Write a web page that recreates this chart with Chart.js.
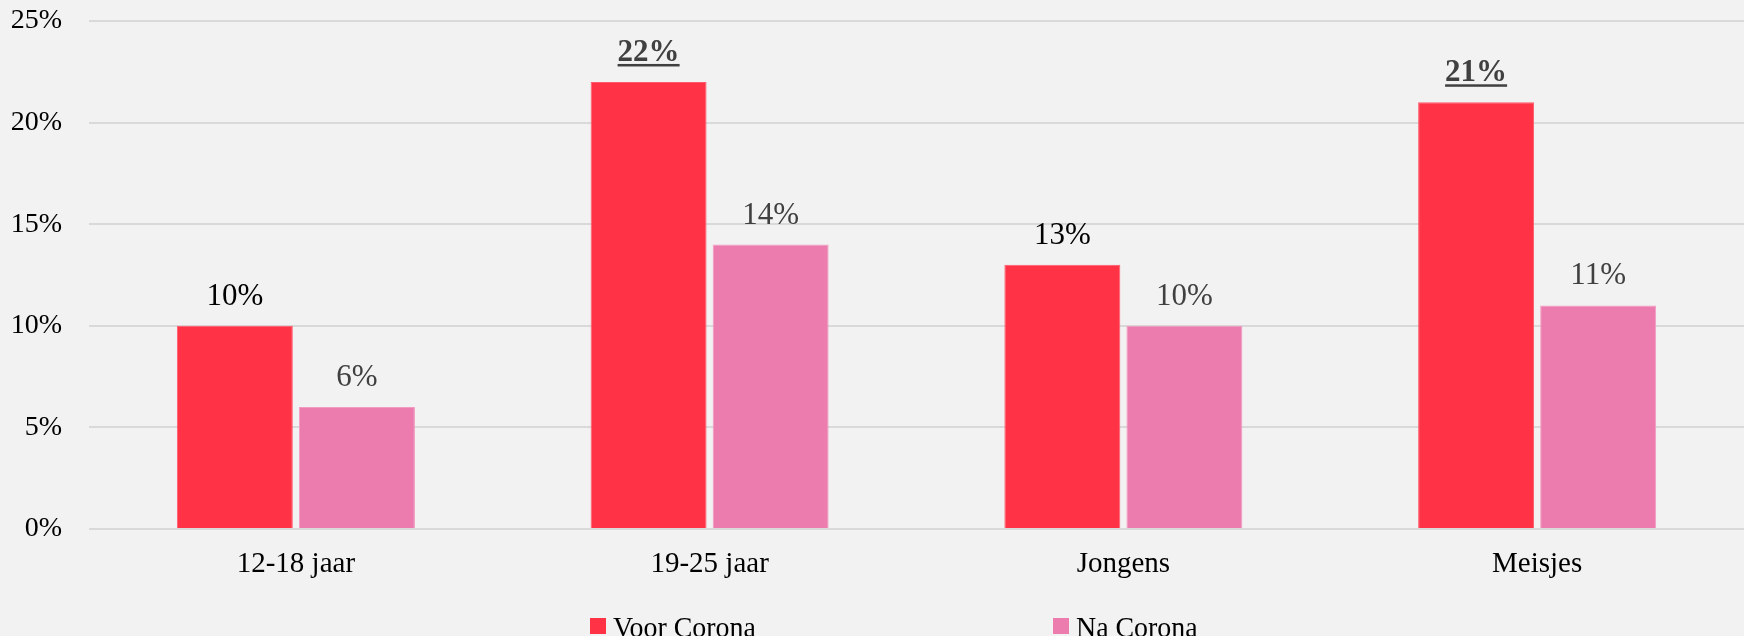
<!DOCTYPE html>
<html>
<head>
    <title>Voor en Na Corona</title>
    <script src="https://cdn.jsdelivr.net/npm/chart.js"></script>
    <style>
        html, body { margin: 0; padding: 0; background: #f2f2f2; }
        #wrap { width: 1744px; height: 636px; }
    </style>
</head>
<body>
    <div id="wrap"><canvas id="barChart"></canvas></div>

    <script>
        const categories = ['12-18 jaar', '19-25 jaar', 'Jongens', 'Meisjes'];
        const voorCorona = [10, 22, 13, 21];
        const naCorona = [6, 14, 10, 11];
        // labels that are shown bold + underlined
        const voorHighlight = [false, true, false, true];
        const naHighlight = [false, false, false, false];
        const yTicks = [0, 5, 10, 15, 20, 25];

        const serif = '"Liberation Serif", "DejaVu Serif", serif';

        // value labels above the bars
        const valueLabels = {
            id: 'valueLabels',
            afterDatasetsDraw(chart) {
                const ctx = chart.ctx;
                chart.data.datasets.forEach((ds, i) => {
                    const meta = chart.getDatasetMeta(i);
                    meta.data.forEach((bar, j) => {
                        const strong = ds.highlight[j];
                        const txt = ds.data[j] + '%';
                        ctx.save();
                        ctx.font = (strong ? 'bold ' : '') + '31px ' + serif;
                        ctx.fillStyle = strong ? '#404040' : ds.labelColor;
                        ctx.textAlign = 'center';
                        ctx.textBaseline = 'alphabetic';
                        const y = bar.y - 21;
                        ctx.fillText(txt, bar.x, y);
                        if (strong) {
                            const w = ctx.measureText(txt).width;
                            ctx.fillRect(bar.x - w / 2, y + 3, w, 2.5);
                        }
                        ctx.restore();
                    });
                });
            }
        };

        // legend at the bottom edge, cut off like the original
        const bottomLegend = {
            id: 'bottomLegend',
            afterDraw(chart) {
                const ctx = chart.ctx;
                const startX = 590, step = 463, base = 637;
                chart.data.datasets.forEach((ds, i) => {
                    const x = startX + i * step;
                    ctx.save();
                    ctx.fillStyle = ds.backgroundColor;
                    ctx.fillRect(x, 618, 16, 16);
                    ctx.fillStyle = '#000000';
                    ctx.font = '30px ' + serif;
                    ctx.textBaseline = 'alphabetic';
                    ctx.translate(x + 23, base);
                    ctx.scale(0.93, 1);
                    ctx.fillText(ds.label, 0, 0);
                    ctx.restore();
                });
            }
        };

        const chartCtx = document.getElementById('barChart').getContext('2d');
        const barChart = new Chart(chartCtx, {
            type: 'bar',
            data: {
                labels: categories,
                datasets: [{
                    label: 'Voor Corona',
                    data: voorCorona,
                    highlight: voorHighlight,
                    labelColor: '#000000',
                    backgroundColor: '#ff3246',
                    borderColor: '#ff5a6b',
                    borderWidth: 1
                }, {
                    label: 'Na Corona',
                    data: naCorona,
                    highlight: naHighlight,
                    labelColor: '#404040',
                    backgroundColor: '#ec7bae',
                    borderColor: '#f39ac0',
                    borderWidth: 1
                }]
            },
            options: {
                responsive: true,
                maintainAspectRatio: false,
                animation: false,
                categoryPercentage: 0.59,
                barPercentage: 0.95,
                layout: { padding: 0 },
                plugins: {
                    legend: { display: false },
                    tooltip: { enabled: false }
                },
                scales: {
                    x: {
                        grid: { display: false, drawTicks: false },
                        border: { display: false },
                        ticks: {
                            color: '#000000',
                            font: { family: serif, size: 29 },
                            padding: 18
                        },
                        afterFit(scale) { scale.height = 107; }
                    },
                    y: {
                        min: 0,
                        max: 25,
                        grid: { color: '#d9d9d9', lineWidth: 2, drawTicks: false },
                        border: { display: false },
                        afterBuildTicks(scale) {
                            scale.ticks = yTicks.map(v => ({ value: v }));
                        },
                        ticks: {
                            color: '#000000',
                            font: { family: serif, size: 28 },
                            padding: 27,
                            callback: v => v + '%'
                        },
                        afterFit(scale) {
                            scale.width = 89;
                            // tick padding would otherwise push the plot top down
                            scale.paddingTop = 21;
                            scale.paddingBottom = 0;
                        }
                    }
                }
            },
            plugins: [valueLabels, bottomLegend]
        });
    </script>
</body>
</html>
